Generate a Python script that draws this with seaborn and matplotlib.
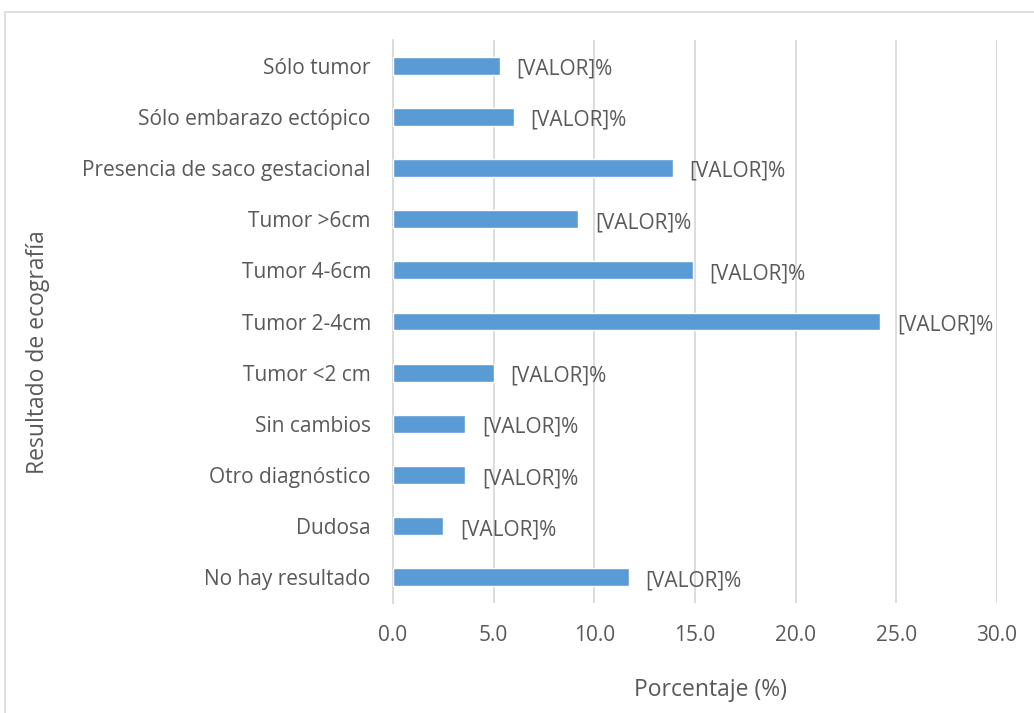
import pandas as pd
import matplotlib.pyplot as plt
import seaborn as sns
from matplotlib.patches import Rectangle

# Data
categorias = ["Sólo tumor", "Sólo embarazo ectópico", "Presencia de saco gestacional",
              "Tumor >6cm", "Tumor 4-6cm", "Tumor 2-4cm", "Tumor <2 cm",
              "Sin cambios", "Otro diagnóstico", "Dudosa", "No hay resultado"]
porcentajes = [5.3, 6.0, 13.9, 9.2, 14.9, 24.2, 5.0, 3.6, 3.6, 2.5, 11.7]
etiquetas = ["[VALOR]%"] * len(categorias)
x_ticks = [0, 5, 10, 15, 20, 25, 30]

df = pd.DataFrame({"categoria": categorias, "porcentaje": porcentajes})

sns.set_style("white")
plt.rcParams["font.family"] = ["Open Sans", "DejaVu Sans"]
text_color = "#595959"
grid_color = "#D9D9D9"

fig = plt.figure(figsize=(10.34, 7.13), dpi=100)
ax = fig.add_axes([393 / 1034, 1 - 603 / 713, (997 - 393) / 1034, (603 - 40) / 713])

sns.barplot(data=df, x="porcentaje", y="categoria", color="#5B9BD5",
            width=0.35, saturation=1, ax=ax, zorder=3)

labels = ax.bar_label(ax.containers[0], labels=etiquetas, padding=12,
                      fontsize=15, color=text_color)
# Excel puts the data labels a little below the bar centre
for t in labels:
    t.xyann = (12, -2.5)

ax.set_xlim(0, 30)
ax.set_ylim(len(categorias) - 0.5, -0.5)
ax.set_xticks(x_ticks)
ax.set_xticklabels([f"{v:.1f}" for v in x_ticks])
ax.xaxis.grid(True, color=grid_color, linewidth=1.3, zorder=0)
ax.set_axisbelow(True)
for s in ["top", "right", "bottom"]:
    ax.spines[s].set_visible(False)
ax.spines["left"].set_color(grid_color)
ax.spines["left"].set_linewidth(1.3)

# category-boundary tick marks on the y axis (Excel style)
ax.set_yticks(range(len(categorias)))
ax.set_yticks([i - 0.5 for i in range(len(categorias) + 1)], minor=True)
ax.tick_params(axis="y", which="major", length=0, pad=16, labelsize=15,
               labelcolor=text_color)
ax.tick_params(axis="y", which="minor", length=6, width=1.3, color=grid_color)
ax.tick_params(axis="x", length=0, pad=16, labelsize=15, labelcolor=text_color)

ax.set_xlabel("")
ax.set_ylabel("")
fig.text(710 / 1034, 1 - 690 / 713, "Porcentaje (%)", ha="center", va="center",
         fontsize=16.5, color=text_color)
fig.text(38 / 1034, 1 - 352 / 713, "Resultado de ecografía", ha="center",
         va="center", rotation=90, fontsize=16.5, color=text_color)

# chart-area border
fig.patches.append(Rectangle((5 / 1034, -0.01), 1.02, 1 - 12 / 713 + 0.01,
                             transform=fig.transFigure, fill=False,
                             edgecolor=grid_color, linewidth=1.2))

fig.savefig("out.png", dpi=100)
